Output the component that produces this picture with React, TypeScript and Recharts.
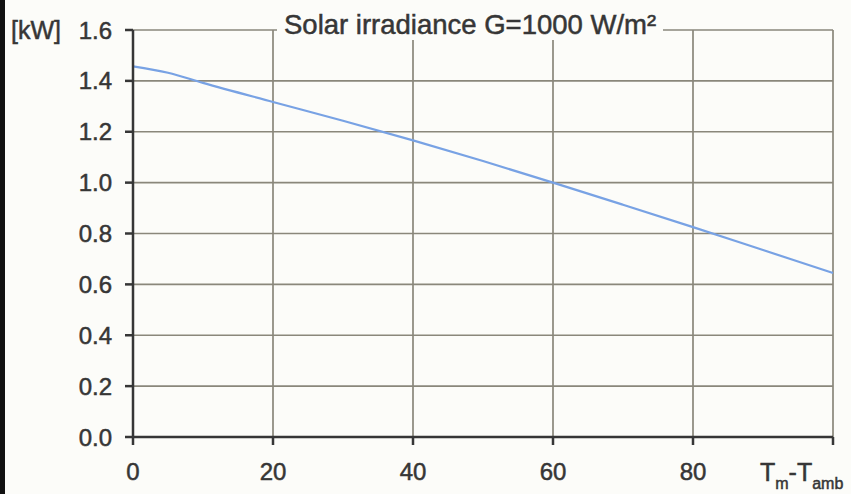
import React from 'react';
import { LineChart, Line, XAxis, YAxis, CartesianGrid } from 'recharts';

// module temp minus ambient temp (°C) vs output power (kW)
const tempDiff = [0, 5, 10, 20, 30, 40, 50, 60, 70, 80, 90, 100];
const power = [1.457, 1.432, 1.392, 1.317, 1.243, 1.166, 1.085, 1.0, 0.913, 0.825, 0.735, 0.645];

const xTicks = [0, 20, 40, 60, 80, 100];
const yTicks = [0, 0.2, 0.4, 0.6, 0.8, 1.0, 1.2, 1.4, 1.6];

const title = 'Solar irradiance G=1000 W/m²';

const FONT = '"Liberation Sans", Arial, sans-serif';
const INK = '#363636';
const BG = '#fcfcf9';

const data = tempDiff.map((t, i) => ({ t, p: power[i] }));

const tickStyle = { fill: INK, stroke: INK, strokeWidth: 0.5, fontSize: 24, fontFamily: FONT };
const thick = { WebkitTextStroke: `0.5px ${INK}` } as React.CSSProperties;

export default function App() {
  return (
    <div style={{ position: 'absolute', left: 0, top: 0, width: 851, height: 494, background: BG, fontFamily: FONT, overflow: 'hidden' }}>
      <div style={{ position: 'absolute', left: 0, top: 0, width: 5, height: 494, background: '#111' }} />
      <LineChart width={851} height={494} data={data} margin={{ top: 30, right: 18, bottom: 0, left: 0 }}>
        <CartesianGrid stroke="#8a877b" strokeWidth={1.7} horizontalValues={yTicks} verticalValues={xTicks} />
        <XAxis
          dataKey="t"
          type="number"
          domain={[0, 100]}
          ticks={xTicks}
          tickFormatter={(v: number) => (v === 100 ? '' : String(v))}
          height={57}
          stroke={INK}
          strokeWidth={2.5}
          tickSize={8}
          tickMargin={18}
          tick={tickStyle}
        />
        <YAxis
          type="number"
          domain={[0, 1.6]}
          ticks={yTicks}
          tickFormatter={(v: number) => v.toFixed(1)}
          width={133}
          stroke={INK}
          strokeWidth={2.5}
          tickSize={8}
          tickMargin={13}
          tick={tickStyle}
        />
        <Line type="monotone" dataKey="p" stroke="#78a2e4" strokeWidth={2.2} dot={false} isAnimationActive={false} />
      </LineChart>
      <div style={{ position: 'absolute', left: 277, top: 10, padding: '0 7px', background: BG, fontSize: 27.5, lineHeight: '30px', color: INK, whiteSpace: 'nowrap', ...thick }}>
        {title}
      </div>
      <div style={{ position: 'absolute', left: 11, top: 15, fontSize: 25, lineHeight: '30px', color: INK, ...thick }}>[kW]</div>
      <div style={{ position: 'absolute', left: 760, top: 457, fontSize: 25, lineHeight: '30px', color: INK, whiteSpace: 'nowrap', ...thick }}>
        T<span style={{ fontSize: 16, verticalAlign: -8 }}>m</span>-T<span style={{ fontSize: 16, verticalAlign: -8 }}>amb</span>
      </div>
    </div>
  );
}
